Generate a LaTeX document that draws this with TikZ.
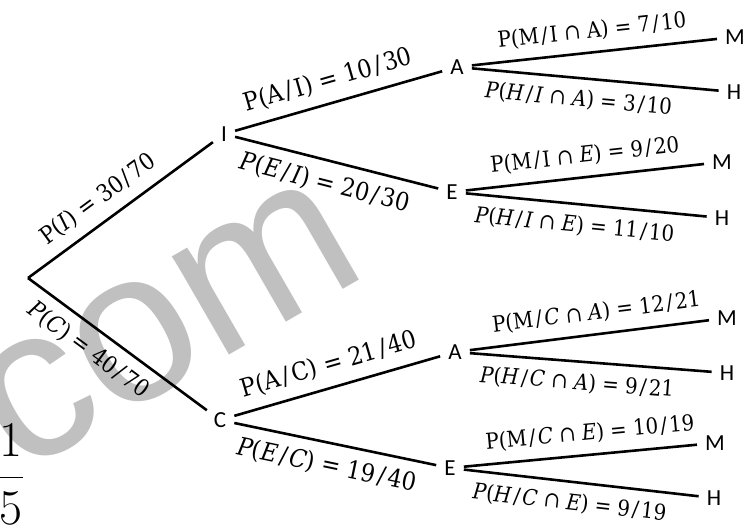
\RequirePackage{fix-cm}
\documentclass[tikz,border=0pt]{standalone}
\usepackage{fontspec}
\newfontfamily\nodefont{Carlito}
\newfontfamily\wmfont{Liberation Sans}
\newfontfamily\mf[FakeStretch=0.9]{DejaVu Serif}
\definecolor{wmgray}{RGB}{192,192,192}
\newcommand{\iv}[1]{\textit{#1}}
\newcommand{\sh}{\hspace{0.1em}/\hspace{0.1em}}
\begin{document}
\begin{tikzpicture}[x=1pt,y=-1pt,
  lbl/.style={font=\mf\fontsize{22}{26}\selectfont, inner sep=2pt, sloped},
  big/.style={font=\mf\fontsize{25}{29}\selectfont},
  mid/.style={font=\mf\fontsize{23.5}{28}\selectfont},
  up/.style={lbl, above=8pt},
  dn/.style={lbl, below=8pt},
  pt/.style={font=\nodefont\fontsize{23}{27}\selectfont, inner xsep=8pt, inner ysep=2pt},
  br/.style={line width=2.6pt}]
\useasboundingbox (0,0) rectangle (756,528);
% watermark and cut fraction
\node[rotate=30, text=wmgray, font=\wmfont\fontsize{215}{215}\selectfont, inner sep=0pt] (wm) at (167,325) {com};
\node[anchor=east, inner sep=0pt, font=\fontsize{50}{58}\selectfont] (frac) at (24,474) {$\displaystyle\frac{1}{5}$};
% nodes
\coordinate (R) at (28,278);
\node[pt] (I) at (224,134) {I};
\node[pt] (C) at (220,420) {C};
\node[pt] (A1) at (457,67) {A};
\node[pt] (E1) at (452,192) {E};
\node[pt] (A2) at (455,352) {A};
\node[pt] (E2) at (450,468) {E};
\node[pt] (M1) at (735,37) {M};
\node[pt] (H1) at (734,92) {H};
\node[pt] (M2) at (722,162) {M};
\node[pt] (H2) at (722,218) {H};
\node[pt] (M3) at (727,318) {M};
\node[pt] (H3) at (727,373) {H};
\node[pt] (M4) at (715,443) {M};
\node[pt] (H4) at (714,498) {H};
% branches
\draw[br] (R) -- (I) node[up, mid, pos=0.45] {P(\iv{I}) = 30\sh70};
\draw[br] (R) -- (C) node[dn, mid, pos=0.41] {\iv{P}(\iv{C}) = 40\sh70};
\draw[br] (I) -- (A1) node[up, big, pos=0.48] {P(A\sh I) = 10\sh30};
\draw[br] (I) -- (E1) node[dn, big, pos=0.47] {\iv{P}(\iv{E}\sh\iv{I}) = 20\sh30};
\draw[br] (C) -- (A2) node[up, big, pos=0.49] {P(A\sh C) = 21\sh40};
\draw[br] (C) -- (E2) node[dn, big, pos=0.48] {\iv{P}(\iv{E}\sh\iv{C}) = 19\sh40};
\draw[br] (A1) -- (M1) node[up, pos=0.50] {P(M\sh I ∩ A) = 7\sh10};
\draw[br] (A1) -- (H1) node[dn, pos=0.44] {\iv{P}(\iv{H}\sh\iv{I} ∩ \iv{A}) = 3\sh10};
\draw[br] (E1) -- (M2) node[up, pos=0.51] {P(M\sh I ∩ \iv{E}) = 9\sh20};
\draw[br] (E1) -- (H2) node[dn, pos=0.46] {\iv{P}(\iv{H}\sh\iv{I} ∩ \iv{E}) = 11\sh10};
\draw[br] (A2) -- (M3) node[up, pos=0.54] {P(M\sh\iv{C} ∩ \iv{A}) = 12\sh21};
\draw[br] (A2) -- (H3) node[dn, pos=0.45] {\iv{P}(\iv{H}\sh\iv{C} ∩ \iv{A}) = 9\sh21};
\draw[br] (E2) -- (M4) node[up, pos=0.55] {P(M\sh\iv{C} ∩ \iv{E}) = 10\sh19};
\draw[br] (E2) -- (H4) node[dn, pos=0.46] {\iv{P}(\iv{H}\sh\iv{C} ∩ \iv{E}) = 9\sh19};
\end{tikzpicture}
\end{document}
